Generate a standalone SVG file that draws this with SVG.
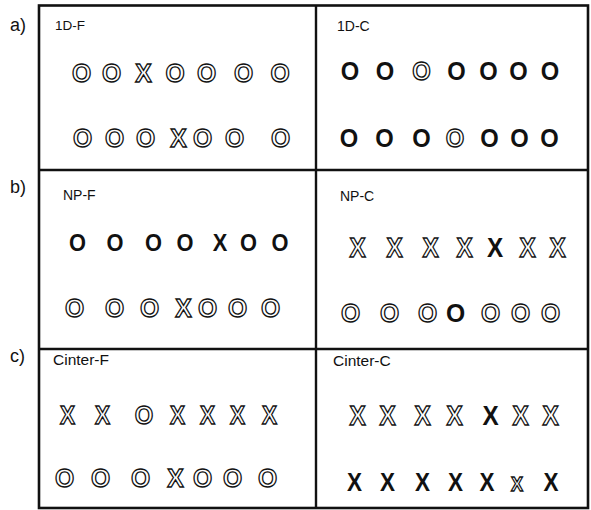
<svg xmlns="http://www.w3.org/2000/svg" width="591" height="510" viewBox="0 0 591 510">
<style>
text{font-family:"Liberation Sans",Arial,sans-serif}
.lab{fill:#111}
.pl{font-size:18px;fill:#111}
.g{font-weight:bold;text-anchor:middle}
.o{fill:#fff;stroke:#111;stroke-width:1.35}
.b{fill:#111}
.frame line,.frame rect{stroke:#111;fill:none}
</style>
<rect width="591" height="510" fill="#fff"/>
<g class="frame" id="frame">
<rect x="39" y="5.5" width="549" height="502.5" stroke-width="2.6"/>
<line x1="316" y1="5.5" x2="316" y2="508" stroke-width="2.4"/>
<line x1="39" y1="170" x2="588" y2="170" stroke-width="2.4"/>
<line x1="39" y1="349" x2="588" y2="349" stroke-width="2.4"/>
</g>
<g id="connectors"></g>
<g id="row-labels">
<text class="pl" x="10" y="31">a)</text>
<text class="pl" x="10" y="193">b)</text>
<text class="pl" x="10" y="362">c)</text>
</g>
<g id="panel-1D-F">
<text class="lab" x="55" y="30" font-size="13.5">1D-F</text>
<g font-size="26">
<text class="g o" transform="translate(81.5 82) scale(0.95 1)">O</text>
<text class="g o" transform="translate(111.5 82) scale(0.95 1)">O</text>
<text class="g o" transform="translate(143.5 82) scale(0.95 1)">X</text>
<text class="g o" transform="translate(175 82) scale(0.95 1)">O</text>
<text class="g o" transform="translate(206.5 82) scale(0.95 1)">O</text>
<text class="g o" transform="translate(243.5 82) scale(0.95 1)">O</text>
<text class="g o" transform="translate(280 82) scale(0.95 1)">O</text>
<text class="g o" transform="translate(82.5 147) scale(0.95 1)">O</text>
<text class="g o" transform="translate(114.5 147) scale(0.95 1)">O</text>
<text class="g o" transform="translate(145.5 147) scale(0.95 1)">O</text>
<text class="g o" transform="translate(178.5 147) scale(0.95 1)">X</text>
<text class="g o" transform="translate(202.5 147) scale(0.95 1)">O</text>
<text class="g o" transform="translate(234.5 147) scale(0.95 1)">O</text>
<text class="g o" transform="translate(280.5 147) scale(0.95 1)">O</text>
</g>
</g>
<g id="panel-1D-C">
<text class="lab" x="337" y="31" font-size="14">1D-C</text>
<g font-size="25">
<text class="g b" transform="translate(350 80) scale(0.95 1)">O</text>
<text class="g b" transform="translate(385 80) scale(0.95 1)">O</text>
<text class="g o" transform="translate(421.5 80) scale(0.95 1)">O</text>
<text class="g b" transform="translate(456.5 80) scale(0.95 1)">O</text>
<text class="g b" transform="translate(488.5 80) scale(0.95 1)">O</text>
<text class="g b" transform="translate(518.5 80) scale(0.95 1)">O</text>
<text class="g b" transform="translate(550 80) scale(0.95 1)">O</text>
<text class="g b" transform="translate(349 147) scale(0.95 1)">O</text>
<text class="g b" transform="translate(384.5 147) scale(0.95 1)">O</text>
<text class="g b" transform="translate(421.5 147) scale(0.95 1)">O</text>
<text class="g o" transform="translate(455 147) scale(0.95 1)">O</text>
<text class="g b" transform="translate(489.5 147) scale(0.95 1)">O</text>
<text class="g b" transform="translate(519.5 147) scale(0.95 1)">O</text>
<text class="g b" transform="translate(549.5 147) scale(0.95 1)">O</text>
</g>
</g>
<g id="panel-NP-F">
<text class="lab" x="63" y="200" font-size="14">NP-F</text>
<g font-size="23">
<text class="g b" transform="translate(77.5 251) scale(0.95 1)">O</text>
<text class="g b" transform="translate(115 251) scale(0.95 1)">O</text>
<text class="g b" transform="translate(153.5 251) scale(0.95 1)">O</text>
<text class="g b" transform="translate(185 251) scale(0.95 1)">O</text>
<text class="g b" transform="translate(220 251) scale(0.95 1)">X</text>
<text class="g b" transform="translate(248.5 251) scale(0.95 1)">O</text>
<text class="g b" transform="translate(280 251) scale(0.95 1)">O</text>
</g>
<g font-size="26">
<text class="g o" transform="translate(74.5 317) scale(0.95 1)">O</text>
<text class="g o" transform="translate(114.5 317) scale(0.95 1)">O</text>
<text class="g o" transform="translate(149.5 317) scale(0.95 1)">O</text>
<text class="g o" transform="translate(183.5 317) scale(0.95 1)">X</text>
<text class="g o" transform="translate(207.5 317) scale(0.95 1)">O</text>
<text class="g o" transform="translate(237.5 317) scale(0.95 1)">O</text>
<text class="g o" transform="translate(270.5 317) scale(0.95 1)">O</text>
</g>
</g>
<g id="panel-NP-C">
<text class="lab" x="340" y="201" font-size="14">NP-C</text>
<g font-size="27">
<text class="g o" transform="translate(357.5 257) scale(0.9 1)">X</text>
<text class="g o" transform="translate(394.5 257) scale(0.9 1)">X</text>
<text class="g o" transform="translate(430.5 257) scale(0.9 1)">X</text>
<text class="g o" transform="translate(464.5 257) scale(0.9 1)">X</text>
<text class="g b" transform="translate(495 257) scale(0.9 1)">X</text>
<text class="g o" transform="translate(527.5 257) scale(0.9 1)">X</text>
<text class="g o" transform="translate(557.5 257) scale(0.9 1)">X</text>
</g>
<g font-size="26">
<text class="g o" transform="translate(350.5 322) scale(0.95 1)">O</text>
<text class="g o" transform="translate(389.5 322) scale(0.95 1)">O</text>
<text class="g o" transform="translate(427.5 322) scale(0.95 1)">O</text>
<text class="g b" transform="translate(455.5 322) scale(0.95 1)">O</text>
<text class="g o" transform="translate(490.5 322) scale(0.95 1)">O</text>
<text class="g o" transform="translate(520.5 322) scale(0.95 1)">O</text>
<text class="g o" transform="translate(550.5 322) scale(0.95 1)">O</text>
</g>
</g>
<g id="panel-Cinter-F">
<text class="lab" x="53" y="365" font-size="15.5">Cinter-F</text>
<g font-size="25">
<text class="g o" transform="translate(67.5 424) scale(0.9 1)">X</text>
<text class="g o" transform="translate(102.5 424) scale(0.9 1)">X</text>
<text class="g o" transform="translate(144 424) scale(0.95 1)">O</text>
<text class="g o" transform="translate(177.5 424) scale(0.9 1)">X</text>
<text class="g o" transform="translate(207.5 424) scale(0.9 1)">X</text>
<text class="g o" transform="translate(237.5 424) scale(0.9 1)">X</text>
<text class="g o" transform="translate(269.5 424) scale(0.9 1)">X</text>
</g>
<g font-size="26">
<text class="g o" transform="translate(64.5 487) scale(0.95 1)">O</text>
<text class="g o" transform="translate(100.5 487) scale(0.95 1)">O</text>
<text class="g o" transform="translate(140.5 487) scale(0.95 1)">O</text>
<text class="g o" transform="translate(175.5 487) scale(0.95 1)">X</text>
<text class="g o" transform="translate(202.5 487) scale(0.95 1)">O</text>
<text class="g o" transform="translate(232.5 487) scale(0.95 1)">O</text>
<text class="g o" transform="translate(267.5 487) scale(0.95 1)">O</text>
</g>
</g>
<g id="panel-Cinter-C">
<text class="lab" x="333" y="366" font-size="15.5">Cinter-C</text>
<g font-size="27">
<text class="g o" transform="translate(357.5 425) scale(0.9 1)">X</text>
<text class="g o" transform="translate(387.5 425) scale(0.9 1)">X</text>
<text class="g o" transform="translate(422.5 425) scale(0.9 1)">X</text>
<text class="g o" transform="translate(454.5 425) scale(0.9 1)">X</text>
<text class="g b" transform="translate(490.5 425) scale(0.9 1)">X</text>
<text class="g o" transform="translate(520.5 425) scale(0.9 1)">X</text>
<text class="g o" transform="translate(550.5 425) scale(0.9 1)">X</text>
</g>
<g font-size="25">
<text class="g b" transform="translate(354.5 491) scale(0.9 1)">X</text>
<text class="g b" transform="translate(387.5 491) scale(0.9 1)">X</text>
<text class="g b" transform="translate(422.5 491) scale(0.9 1)">X</text>
<text class="g b" transform="translate(455.5 491) scale(0.9 1)">X</text>
<text class="g b" transform="translate(487 491) scale(0.9 1)">X</text>
<text class="g o" transform="translate(517 491) scale(0.9 1)" font-size="20">X</text>
<text class="g b" transform="translate(551 491) scale(0.9 1)">X</text>
</g>
</g>
</svg>
